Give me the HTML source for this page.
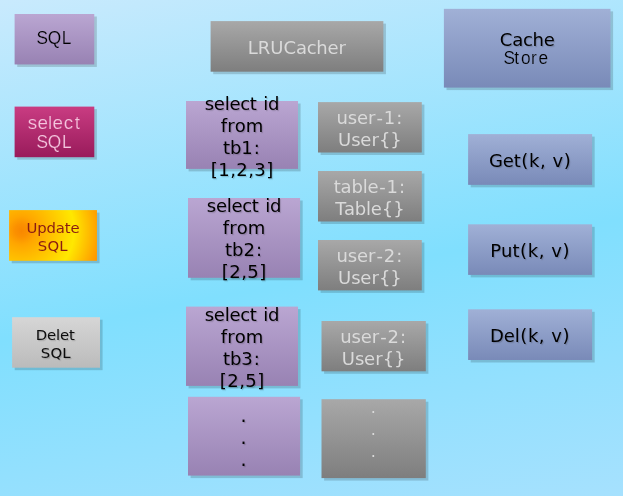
<!DOCTYPE html>
<html lang="en">
<head>
<meta charset="utf-8">
<title>LRUCacher cache store diagram</title>
<style>
html,body{margin:0;padding:0;}
body{width:623px;height:496px;overflow:hidden;background:#9ae1fe;}
.stage{position:absolute;left:0;top:0;width:623px;height:496px;overflow:hidden;background:linear-gradient(169deg,#c9eafd 0%,#80dffe 55%,#a6e1fe 100%);}
svg{display:block;position:absolute;left:0;top:0;will-change:transform;}
text{white-space:pre;}
.v{font-family:"DejaVu Sans","Liberation Sans",sans-serif;}
.c{font-family:"Liberation Sans","DejaVu Sans",sans-serif;}
</style>
</head>
<body>
<div class="stage">
<svg width="623" height="496" viewBox="0 0 623 496" role="img" aria-label="LRUCacher diagram">
<defs>
<linearGradient id="gp" x1="0" y1="0" x2="0" y2="1"><stop offset="0" stop-color="#baa6d2"/><stop offset="1" stop-color="#9882b3"/></linearGradient>
<linearGradient id="gg" x1="0" y1="0" x2="0" y2="1"><stop offset="0" stop-color="#a8a8a8"/><stop offset="1" stop-color="#7e7e7e"/></linearGradient>
<linearGradient id="gu" x1="0" y1="0" x2="0" y2="1"><stop offset="0" stop-color="#a0b0d6"/><stop offset="1" stop-color="#798ab8"/></linearGradient>
<linearGradient id="gm" x1="0" y1="0" x2="0" y2="1"><stop offset="0" stop-color="#c93c82"/><stop offset="1" stop-color="#991b5b"/></linearGradient>
<linearGradient id="gl" x1="0" y1="0" x2="0" y2="1"><stop offset="0" stop-color="#d6d6d6"/><stop offset="1" stop-color="#bbbbbb"/></linearGradient>
<radialGradient id="go" gradientUnits="userSpaceOnUse" cx="21.3" cy="230.5" r="80" fx="21.3" fy="230.5"><stop offset="0" stop-color="#f98700"/><stop offset="0.08" stop-color="#fb9000"/><stop offset="0.18" stop-color="#ffa600"/><stop offset="0.3" stop-color="#ffb700"/><stop offset="0.5" stop-color="#ffd200"/><stop offset="0.66" stop-color="#ffe800"/><stop offset="0.8" stop-color="#ffc600"/><stop offset="0.95" stop-color="#ffa200"/><stop offset="1" stop-color="#ff9800"/></radialGradient>
<filter id="sh" x="-10%" y="-10%" width="120%" height="120%"><feGaussianBlur stdDeviation="0.55"/></filter>
<filter id="ts" x="-10%" y="-20%" width="120%" height="150%"><feDropShadow dx="1.1" dy="1.2" stdDeviation="0.4" flood-color="#000" flood-opacity="0.17"/></filter>
</defs>
<g id="sql">
<rect x="17.20" y="16.50" width="79.65" height="50.45" fill="#000" fill-opacity="0.16" filter="url(#sh)"/>
<rect x="14.60" y="14.00" width="79.65" height="50.45" fill="url(#gp)"/>
<text class="c" id="t0" transform="scale(0.9600 1)" x="38.05 49.69 64.46" y="43.60" font-size="18" fill="#000000" stroke="#a995c3" stroke-width="0.22">SQL</text>
</g>
<g id="lru">
<rect x="213.20" y="23.60" width="172.75" height="50.60" fill="#000" fill-opacity="0.16" filter="url(#sh)"/>
<rect x="210.60" y="21.10" width="172.75" height="50.60" fill="url(#gg)"/>
<text class="v" id="t1" x="247.83 257.86 270.37 283.54 296.00 306.67 316.30 327.53 338.57" y="54.20" font-size="18" fill="#dadada">LRUCacher</text>
</g>
<g id="store">
<rect x="446.50" y="11.35" width="166.60" height="78.75" fill="#000" fill-opacity="0.16" filter="url(#sh)"/>
<rect x="443.90" y="8.85" width="166.60" height="78.75" fill="url(#gu)"/>
<text class="v" id="t2" x="499.76 512.22 522.88 532.51 543.74" y="45.50" font-size="18" fill="#000000" filter="url(#ts)">Cache</text>
<text class="c" id="t3" transform="scale(0.9600 1)" x="524.61 535.62 542.81 553.18 560.96" y="63.60" font-size="18" fill="#000000" stroke="#8a9bc6" stroke-width="0.22">Store</text>
</g>
<g id="selsql">
<rect x="17.20" y="109.10" width="79.70" height="50.60" fill="#000" fill-opacity="0.16" filter="url(#sh)"/>
<rect x="14.60" y="106.60" width="79.70" height="50.60" fill="url(#gm)"/>
<text class="c" id="t4" transform="scale(1.0469 1)" x="26.61 35.75 45.81 50.12 60.86 71.42" y="128.70" font-size="18" fill="#f4c6de" stroke="#bb3177" stroke-width="0.22">select</text>
<text class="c" id="t5" transform="scale(0.9600 1)" x="38.16 49.79 64.57" y="147.70" font-size="18" fill="#f4c6de" stroke="#a7256a" stroke-width="0.22">SQL</text>
</g>
<g id="tb1">
<rect x="188.60" y="103.50" width="112.00" height="67.90" fill="#000" fill-opacity="0.16" filter="url(#sh)"/>
<rect x="186.00" y="101.00" width="112.00" height="67.90" fill="url(#gp)"/>
<text class="v" id="t6" x="204.64 213.85 224.71 229.51 240.15 249.80 257.18 263.18 268.04" y="109.90" font-size="18" fill="#000000" filter="url(#ts)">select id</text>
<text class="v" id="t7" x="220.77 227.25 234.75 245.71" y="132.00" font-size="18" fill="#000000" filter="url(#ts)">from</text>
<text class="v" id="t8" x="223.05 230.02 241.34 253.84" y="154.10" font-size="18" fill="#000000" filter="url(#ts)">tb1:</text>
<text class="v" id="t9" x="210.68 218.27 230.14 236.27 248.14 254.27 266.30" y="176.20" font-size="18" fill="#000000" filter="url(#ts)">[1,2,3]</text>
</g>
<g id="user1">
<rect x="320.60" y="104.60" width="103.80" height="50.40" fill="#000" fill-opacity="0.16" filter="url(#sh)"/>
<rect x="318.00" y="102.10" width="103.80" height="50.40" fill="url(#gg)"/>
<text class="v" id="t10" x="336.40 347.81 357.01 368.05 376.44 383.77 396.27" y="124.10" font-size="18" fill="#dadada">user-1:</text>
<text class="v" id="t11" x="337.99 351.16 360.37 371.41 378.94 390.37" y="146.00" font-size="18" fill="#dadada">User{}</text>
</g>
<g id="get">
<rect x="470.70" y="136.60" width="124.00" height="50.75" fill="#000" fill-opacity="0.16" filter="url(#sh)"/>
<rect x="468.10" y="134.10" width="124.00" height="50.75" fill="url(#gu)"/>
<text class="v" id="t12" x="488.94 502.72 513.64 521.29 529.00 539.96 546.40 552.43 563.66" y="167.10" font-size="18" fill="#000000" filter="url(#ts)">Get(k, v)</text>
</g>
<g id="table1">
<rect x="320.60" y="173.50" width="103.80" height="50.50" fill="#000" fill-opacity="0.16" filter="url(#sh)"/>
<rect x="318.00" y="171.00" width="103.80" height="50.50" fill="url(#gg)"/>
<text class="v" id="t13" x="333.63 340.60 351.42 362.70 367.49 379.23 386.57 399.07" y="193.05" font-size="18" fill="#dadada">table-1:</text>
<text class="v" id="t14" x="335.25 343.94 354.76 366.04 370.83 381.72 393.15" y="214.95" font-size="18" fill="#dadada">Table{}</text>
</g>
<g id="upd">
<rect x="11.70" y="212.60" width="87.85" height="50.70" fill="#000" fill-opacity="0.16" filter="url(#sh)"/>
<rect x="9.10" y="210.10" width="87.85" height="50.70" fill="url(#go)"/>
<text class="v" id="t15" x="26.53 37.31 46.56 55.81 64.84 70.53" y="232.90" font-size="14.85" fill="#8a1c12">Update</text>
<text class="v" id="t16" x="37.83 47.62 59.31" y="251.10" font-size="14.85" fill="#8a1c12">SQL</text>
</g>
<g id="tb2">
<rect x="190.60" y="200.50" width="112.10" height="79.80" fill="#000" fill-opacity="0.16" filter="url(#sh)"/>
<rect x="188.00" y="198.00" width="112.10" height="79.80" fill="url(#gp)"/>
<text class="v" id="t17" x="206.69 215.90 226.76 231.56 242.20 251.85 259.23 265.23 270.09" y="211.85" font-size="18" fill="#000000" filter="url(#ts)">select id</text>
<text class="v" id="t18" x="222.82 229.30 236.80 247.76" y="234.00" font-size="18" fill="#000000" filter="url(#ts)">from</text>
<text class="v" id="t19" x="225.10 232.07 243.39 255.89" y="256.15" font-size="18" fill="#000000" filter="url(#ts)">tb2:</text>
<text class="v" id="t20" x="221.73 229.32 241.19 247.32 259.35" y="278.30" font-size="18" fill="#000000" filter="url(#ts)">[2,5]</text>
</g>
<g id="user2">
<rect x="320.60" y="242.50" width="103.80" height="50.40" fill="#000" fill-opacity="0.16" filter="url(#sh)"/>
<rect x="318.00" y="240.00" width="103.80" height="50.40" fill="url(#gg)"/>
<text class="v" id="t21" x="336.40 347.81 357.01 368.05 376.44 383.77 396.27" y="262.00" font-size="18" fill="#dadada">user-2:</text>
<text class="v" id="t22" x="337.99 351.16 360.37 371.41 378.94 390.37" y="283.90" font-size="18" fill="#dadada">User{}</text>
</g>
<g id="put">
<rect x="470.70" y="226.80" width="124.00" height="50.60" fill="#000" fill-opacity="0.16" filter="url(#sh)"/>
<rect x="468.10" y="224.30" width="124.00" height="50.60" fill="url(#gu)"/>
<text class="v" id="t23" x="490.16 501.00 512.42 520.07 527.79 538.74 545.19 551.22 562.44" y="257.30" font-size="18" fill="#000000" filter="url(#ts)">Put(k, v)</text>
</g>
<g id="del_sql">
<rect x="14.70" y="319.70" width="87.90" height="50.50" fill="#000" fill-opacity="0.16" filter="url(#sh)"/>
<rect x="12.10" y="317.20" width="87.90" height="50.50" fill="url(#gl)"/>
<text class="v" id="t24" x="35.72 47.02 55.99 59.94 68.95" y="339.90" font-size="14.85" fill="#0a0a0a" filter="url(#ts)">Delet</text>
<text class="v" id="t25" x="40.66 50.45 62.14" y="358.10" font-size="14.85" fill="#0a0a0a" filter="url(#ts)">SQL</text>
</g>
<g id="tb3">
<rect x="188.60" y="309.10" width="112.00" height="79.30" fill="#000" fill-opacity="0.16" filter="url(#sh)"/>
<rect x="186.00" y="306.60" width="112.00" height="79.30" fill="url(#gp)"/>
<text class="v" id="t26" x="204.64 213.85 224.71 229.51 240.15 249.80 257.18 263.18 268.04" y="321.10" font-size="18" fill="#000000" filter="url(#ts)">select id</text>
<text class="v" id="t27" x="220.77 227.25 234.75 245.71" y="343.05" font-size="18" fill="#000000" filter="url(#ts)">from</text>
<text class="v" id="t28" x="223.05 230.02 241.34 253.84" y="365.00" font-size="18" fill="#000000" filter="url(#ts)">tb3:</text>
<text class="v" id="t29" x="219.68 227.27 239.14 245.27 257.30" y="386.95" font-size="18" fill="#000000" filter="url(#ts)">[2,5]</text>
</g>
<g id="user2b">
<rect x="324.10" y="323.50" width="104.30" height="50.30" fill="#000" fill-opacity="0.16" filter="url(#sh)"/>
<rect x="321.50" y="321.00" width="104.30" height="50.30" fill="url(#gg)"/>
<text class="v" id="t30" x="340.15 351.56 360.76 371.80 380.19 387.52 400.02" y="342.95" font-size="18" fill="#dadada">user-2:</text>
<text class="v" id="t31" x="341.74 354.91 364.12 375.16 382.69 394.12" y="364.85" font-size="18" fill="#dadada">User{}</text>
</g>
<g id="del">
<rect x="470.70" y="311.80" width="124.00" height="50.70" fill="#000" fill-opacity="0.16" filter="url(#sh)"/>
<rect x="468.10" y="309.30" width="124.00" height="50.70" fill="url(#gu)"/>
<text class="v" id="t32" x="490.07 503.76 514.63 520.17 527.89 538.84 545.28 551.31 562.54" y="342.30" font-size="18" fill="#000000" filter="url(#ts)">Del(k, v)</text>
</g>
<g id="dotsp">
<rect x="190.60" y="399.30" width="112.10" height="78.80" fill="#000" fill-opacity="0.16" filter="url(#sh)"/>
<rect x="188.00" y="396.80" width="112.10" height="78.80" fill="url(#gp)"/>
<text class="v" id="t33" x="240.53" y="422.00" font-size="19" fill="#000000" filter="url(#ts)">.</text>
<text class="v" id="t34" x="240.53" y="444.10" font-size="19" fill="#000000" filter="url(#ts)">.</text>
<text class="v" id="t35" x="240.53" y="466.10" font-size="19" fill="#000000" filter="url(#ts)">.</text>
</g>
<g id="dotsg">
<rect x="324.10" y="401.70" width="104.30" height="78.90" fill="#000" fill-opacity="0.16" filter="url(#sh)"/>
<rect x="321.50" y="399.20" width="104.30" height="78.90" fill="url(#gg)"/>
<text class="v" id="t36" x="370.71" y="413.00" font-size="16" fill="#dadada">.</text>
<text class="v" id="t37" x="370.71" y="435.00" font-size="16" fill="#dadada">.</text>
<text class="v" id="t38" x="370.71" y="457.00" font-size="16" fill="#dadada">.</text>
</g>
</svg>
</div>
</body>
</html>
